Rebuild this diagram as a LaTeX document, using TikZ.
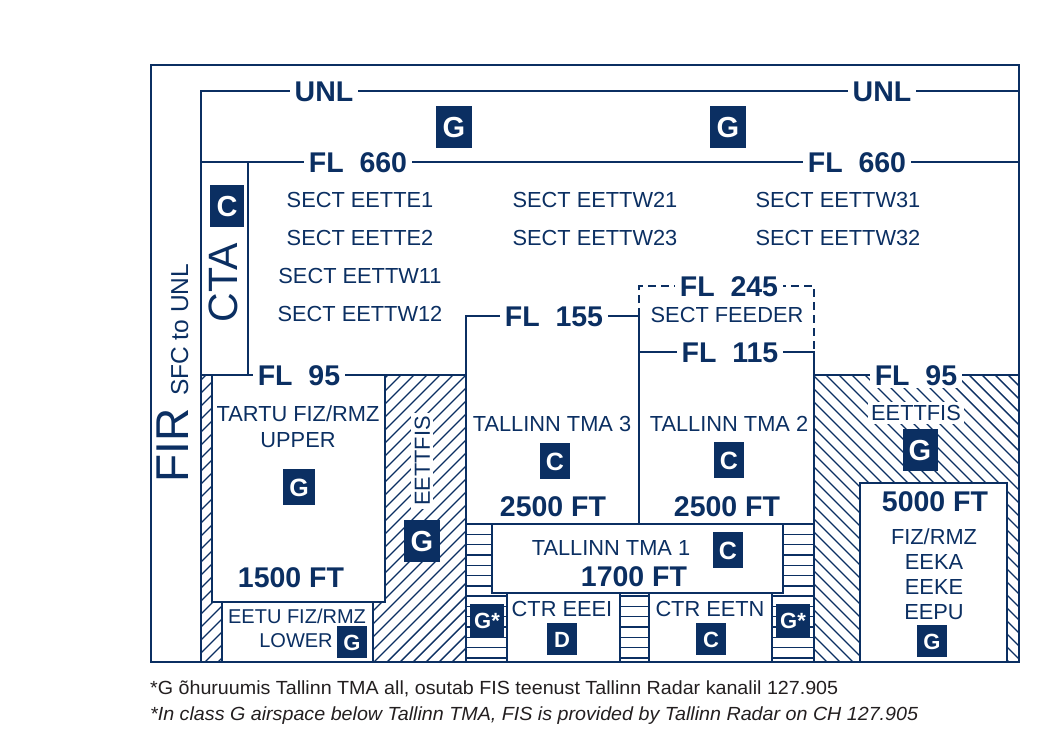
\documentclass[tikz,border=0pt]{standalone}
\usepackage{fontspec}
\setmainfont{Liberation Sans}
\usepackage{graphicx}
\definecolor{navy}{HTML}{0B2F62}
\definecolor{notegray}{HTML}{231F20}
\tikzset{
  ln/.style={draw=navy, line width=2pt},
  hatch/.style={draw=navy, line width=1.4pt},
  whitebox/.style={fill=white, draw=navy, line width=2pt},
  txt/.style={text=navy, font=\fontsize{21.8}{21.8}\selectfont, inner sep=0pt, text height=15.6pt, text depth=0pt},
  stxt/.style={txt, font=\fontsize{20}{20}\selectfont, text height=14.3pt},
  bigtxt/.style={text=navy, font=\bfseries\fontsize{28.5}{28.5}\selectfont, inner sep=0pt, text height=20.4pt, text depth=0pt},
  flab/.style={bigtxt, fill=white, inner xsep=5pt, inner ysep=3pt},
  badge/.style={fill=navy, text=white, inner sep=0pt, font=\bfseries\fontsize{29}{29}\selectfont, text height=21pt, text depth=0pt, minimum width=36pt, minimum height=42pt},
  badgem/.style={badge, font=\bfseries\fontsize{25}{25}\selectfont, text height=18pt, minimum width=30pt, minimum height=36pt},
  badges/.style={badge, font=\bfseries\fontsize{22}{22}\selectfont, text height=16pt, minimum width=30pt, minimum height=32pt},
  note/.style={text=notegray, inner sep=0pt, anchor=base west, font=\fontsize{19}{19}\selectfont}
}
\begin{document}
\begin{tikzpicture}[x=1pt,y=-1pt]
\useasboundingbox (0,0) rectangle (1044,754);
\fill[white] (0,0) rectangle (1044,754);

% hatched areas
\begin{scope}
  \clip (201,375) rectangle (466,662);
  \foreach \i in {-120,-107,...,480} \draw[hatch] (\i,662) -- ++(300,-300);
\end{scope}
\begin{scope}
  \clip (814,375) rectangle (1019,662);
  \foreach \i in {501,514,...,1030} \draw[hatch] (\i,375) -- ++(300,300);
\end{scope}
\begin{scope}
  \clip (466,524) rectangle (814,662);
  \foreach \k in {1,...,13} \draw[hatch] (466,524+10.3*\k) -- (814,524+10.3*\k);
\end{scope}

% white boxes
\draw[whitebox] (212,375) rectangle (385,602);
\draw[whitebox] (222,602) rectangle (373,662);
\draw[whitebox] (492,524) rectangle (783,593);
\draw[whitebox] (507,593) rectangle (620,662);
\draw[whitebox] (649,593) rectangle (772,662);
\draw[whitebox] (860,483) rectangle (1007,662);

% structure lines
\draw[ln] (151,65) rectangle (1019,662);
\draw[ln] (201,662) -- (201,91) -- (1019,91);
\draw[ln] (201,162) -- (1019,162);
\draw[ln] (248,162) -- (248,375);
\draw[ln] (201,375) -- (466,375);
\draw[ln] (466,662) -- (466,316) -- (639,316) -- (639,524);
\draw[ln] (639,352) -- (814,352) -- (814,662);
\draw[ln] (466,524) -- (814,524);
\draw[ln] (814,375) -- (1019,375);
\draw[ln, dash pattern=on 8pt off 5pt] (639,316) -- (639,286) -- (814,286) -- (814,352);

% level labels
\node[flab] (unl1) at (324,91) {UNL};
\node[flab] (unl2) at (882,91) {UNL};
\node[flab] (fl660a) at (358,162) {FL~~660};
\node[flab] (fl660b) at (857,162) {FL~~660};
\node[flab] (fl95a) at (299,375) {FL~~95};
\node[flab] (fl95b) at (916,375) {FL~~95};
\node[flab] (fl155) at (554,316) {FL~~155};
\node[flab] (fl245) at (729,286) {FL~~245};
\node[flab] (fl115) at (730,352) {FL~~115};

% FIR and CTA
\node[text=navy, inner sep=0pt, rotate=90, anchor=base west] (fir) at (188,483)
  {\fontsize{46}{46}\selectfont FIR \fontsize{24.5}{24.5}\selectfont SFC to UNL};
\node[text=navy, inner sep=0pt, rotate=90, font=\fontsize{41}{41}\selectfont, text height=29.5pt, text depth=0pt] (cta) at (223,283) {CTA};

% sectors
\node[txt] (s1) at (360,200) {SECT EETTE1};
\node[txt] (s2) at (360,238) {SECT EETTE2};
\node[txt] (s3) at (360,276) {SECT EETTW11};
\node[txt] (s4) at (360,314) {SECT EETTW12};
\node[txt] (s5) at (595,200) {SECT EETTW21};
\node[txt] (s6) at (595,238) {SECT EETTW23};
\node[txt] (s7) at (838,200) {SECT EETTW31};
\node[txt] (s8) at (838,238) {SECT EETTW32};
\node[txt] (feeder) at (727,315) {SECT FEEDER};

% Tartu
\node[txt] (tartu) at (298,414) {TARTU FIZ/RMZ};
\node[txt] (upper) at (298,440) {UPPER};
\node[bigtxt] (ft1500) at (291,577) {1500 FT};
\node[stxt] (eetu) at (297,616) {EETU FIZ/RMZ};
\node[stxt] (lower) at (296,640) {LOWER};
\node[txt, fill=white, inner sep=3pt, rotate=90] (fisl) at (422,461) {EETTFIS};

% TMAs
\node[txt] (tma3) at (552,424) {TALLINN TMA 3};
\node[bigtxt] (ft2500a) at (553,506) {2500 FT};
\node[txt] (tma2) at (729,424) {TALLINN TMA 2};
\node[bigtxt] (ft2500b) at (727,506) {2500 FT};
\node[txt] (tma1) at (611,548) {TALLINN TMA 1};
\node[bigtxt] (ft1700) at (634,576) {1700 FT};
\node[txt] (eeei) at (562,609) {CTR EEEI};
\node[txt] (eetn) at (710,609) {CTR EETN};

% right side
\node[txt, fill=white, inner sep=3pt] (fisr) at (916,413) {EETTFIS};
\node[bigtxt] (ft5000) at (935,501) {5000 FT};
\node[txt] (fiz) at (934,537) {FIZ/RMZ};
\node[txt] (eeka) at (934,562) {EEKA};
\node[txt] (eeke) at (934,587) {EEKE};
\node[txt] (eepu) at (934,612) {EEPU};

% class badges
\node[badge] (gA) at (454,127) {G};
\node[badge] (gB) at (728,127) {G};
\node[badge, minimum width=34pt] (cCTA) at (227,206) {C};
\node[badgem, minimum width=32pt] (gTartu) at (299,487) {G};
\node[badge] (gFisL) at (422,541) {G};
\node[badgem] (cT3) at (555,461) {C};
\node[badgem] (cT2) at (729,460) {C};
\node[badgem] (cT1) at (728,550) {C};
\node[badge, minimum width=35pt] (gFisR) at (920,450) {G};
\node[badges] (gEetu) at (352,642) {G};
\node[badges, minimum width=34pt, minimum height=33pt] (gsL) at (487,620) {G*};
\node[badges, minimum width=34pt, minimum height=33pt] (gsR) at (793,620) {G*};
\node[badges] (dEEEI) at (562,639) {D};
\node[badges] (cEETN) at (711,639) {C};
\node[badges] (gEEPU) at (932,641) {G};

% footnotes
\node[note] (n1) at (150,694) {\resizebox{688pt}{\height}{*G õhuruumis Tallinn TMA all, osutab FIS teenust Tallinn Radar kanalil 127.905}};
\node[note] (n2) at (150,720) {\resizebox{768pt}{\height}{\itshape *In class G airspace below Tallinn TMA, FIS is provided by Tallinn Radar on CH 127.905}};
\end{tikzpicture}
\end{document}
